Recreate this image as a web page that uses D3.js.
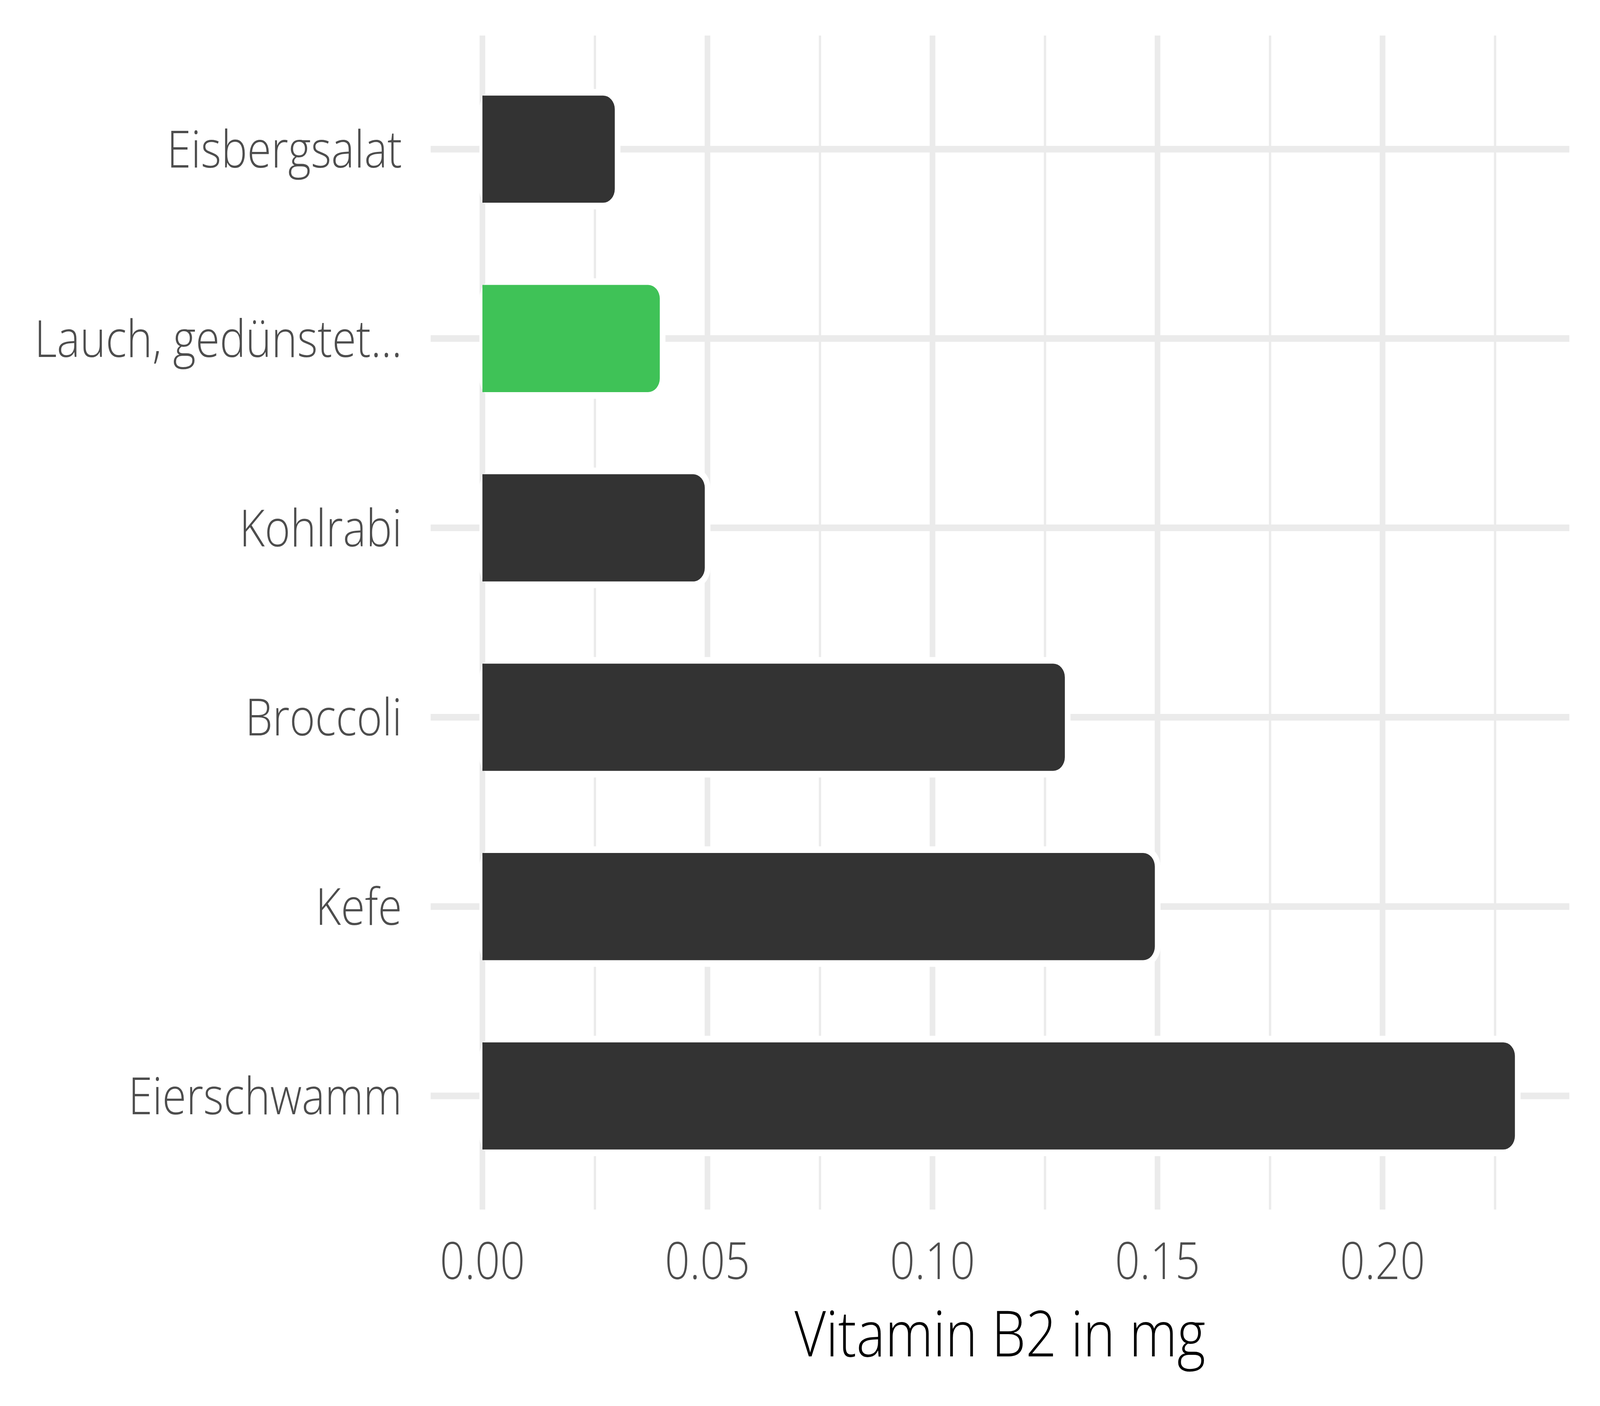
<!DOCTYPE html>
<html>
<head>
<meta charset="utf-8">
<script src="https://cdn.jsdelivr.net/npm/d3@7"></script>
<style>
  html, body { margin: 0; padding: 0; background: #fff; overflow: hidden; }
  svg { display: block; width: 100vw; height: 100vh; font-family: "Open Sans", sans-serif; }
</style>
</head>
<body>
<div id="chart"></div>
<script>
// chart data
var foods = ["Eisbergsalat", "Lauch, gedünstet...", "Kohlrabi", "Broccoli", "Kefe", "Eierschwamm"];
var values = [0.03, 0.04, 0.05, 0.13, 0.15, 0.23];
var highlight = ["Lauch, gedünstet..."];
var majorTicks = [0, 0.05, 0.10, 0.15, 0.20];
var minorTicks = [0.025, 0.075, 0.125, 0.175, 0.225];
var xTitle = "Vitamin B2 in mg";

// drawn in a 4800x3600 coordinate system, stretched onto the window
var width = 4800, height = 3600;
var panel = {left: 1292, right: 4708, top: 91, bottom: 3097};

var svg = d3.select("#chart")
    .append("svg")
    .attr("viewBox", `0 0 ${width} ${height}`)
    .attr("preserveAspectRatio", "none");

svg.append("rect")
    .attr("width", width)
    .attr("height", height)
    .attr("fill", "#fff");

// ggplot style: 5% expansion on both sides of [0, max]
var xmax = d3.max(values);
var xScale = d3.scaleLinear()
    .domain([-0.05 * xmax, xmax * 1.05])
    .range([panel.left, panel.right]);

var yScale = d3.scalePoint()
    .domain(foods)
    .range([panel.top, panel.bottom])
    .padding(0.6);

var step = yScale.step();
var barHalf = step * 0.283;

// grid lines
svg.append("g")
    .selectAll("line")
    .data(minorTicks)
    .enter()
    .append("line")
    .attr("x1", d => xScale(d)).attr("x2", d => xScale(d))
    .attr("y1", panel.top).attr("y2", panel.bottom)
    .attr("stroke", "#ebebeb")
    .attr("stroke-width", 7);

svg.append("g")
    .selectAll("line")
    .data(majorTicks)
    .enter()
    .append("line")
    .attr("x1", d => xScale(d)).attr("x2", d => xScale(d))
    .attr("y1", panel.top).attr("y2", panel.bottom)
    .attr("stroke", "#ebebeb")
    .attr("stroke-width", 17);

svg.append("g")
    .selectAll("line")
    .data(foods)
    .enter()
    .append("line")
    .attr("x1", panel.left).attr("x2", panel.right)
    .attr("y1", d => yScale(d)).attr("y2", d => yScale(d))
    .attr("stroke", "#ebebeb")
    .attr("stroke-width", 17);

// bar path: square on the left, rounded on the right
function barPath(x0, x1, y0, y1, r) {
    var p = d3.path();
    p.moveTo(x0, y0);
    p.lineTo(x1 - r, y0);
    p.arcTo(x1, y0, x1, y0 + r, r);
    p.lineTo(x1, y1 - r);
    p.arcTo(x1, y1, x1 - r, y1, r);
    p.lineTo(x0, y1);
    p.closePath();
    return p.toString();
}

var bars = foods.map((f, i) => ({food: f, value: values[i]}));
var inset = 8, halo = 17;

// white halo around each bar
svg.append("g")
    .selectAll("rect")
    .data(bars)
    .enter()
    .append("rect")
    .attr("x", xScale(0) - 9)
    .attr("y", d => yScale(d.food) - barHalf - halo)
    .attr("width", d => xScale(d.value) - inset + halo - (xScale(0) - 9))
    .attr("height", 2 * (barHalf + halo))
    .attr("rx", 52)
    .attr("fill", "#fff");

svg.append("g")
    .selectAll("path")
    .data(bars)
    .enter()
    .append("path")
    .attr("d", d => barPath(xScale(0), xScale(d.value) - inset,
        yScale(d.food) - barHalf, yScale(d.food) + barHalf, 35))
    .attr("fill", d => highlight.includes(d.food) ? "#3fc257" : "#333333");

// y labels
svg.append("g")
    .selectAll("text")
    .data(foods)
    .enter()
    .append("text")
    .attr("x", 1206)
    .attr("y", d => yScale(d) + 47)
    .attr("text-anchor", "end")
    .attr("fill", "#4d4d4d")
    .style("font-size", "131px")
    .style("font-weight", 300)
    .text(d => d);

// x tick labels
svg.append("g")
    .selectAll("text")
    .data(majorTicks)
    .enter()
    .append("text")
    .attr("x", d => xScale(d))
    .attr("y", 3275)
    .attr("text-anchor", "middle")
    .attr("fill", "#4d4d4d")
    .style("font-size", "131px")
    .style("font-weight", 300)
    .text(d => d3.format(".2f")(d));

// x axis title
svg.append("text")
    .attr("x", (panel.left + panel.right) / 2)
    .attr("y", 3473)
    .attr("text-anchor", "middle")
    .attr("fill", "#000")
    .style("font-size", "163px")
    .style("font-weight", 300)
    .text(xTitle);
</script>
</body>
</html>
